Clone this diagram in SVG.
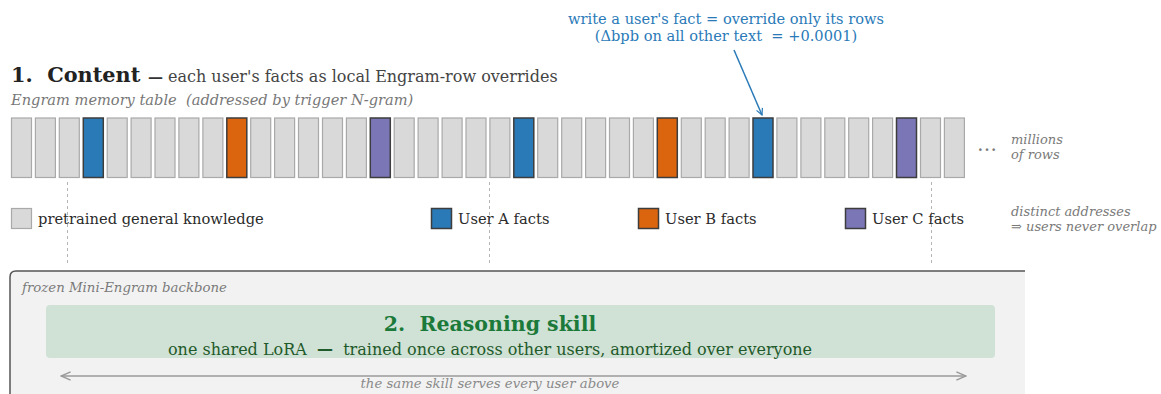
<svg xmlns="http://www.w3.org/2000/svg" width="1161" height="394" viewBox="0 0 1161 394">
  <defs>
    <style>
      text { font-family: "DejaVu Serif", serif; white-space: pre; }
      .cell { fill: #d9d9d9; stroke: #a9a9a9; stroke-width: 1.2; }
      .ua { fill: #2a7ab8; stroke: #3d3d3d; stroke-width: 1.5; }
      .ub { fill: #db650f; stroke: #3d3d3d; stroke-width: 1.5; }
      .uc { fill: #7b76b6; stroke: #3d3d3d; stroke-width: 1.5; }
      .note { font-style: italic; fill: #7a7a7a; font-size: 13px; }
      .leg { fill: #2b2b2b; font-size: 14.7px; }
      .guide { stroke: #b5b5b5; stroke-width: 1; stroke-dasharray: 3 3; }
    </style>
    <marker id="ahBlue" viewBox="0 0 10 10" refX="9" refY="5" markerWidth="8" markerHeight="8" orient="auto-start-reverse" markerUnits="userSpaceOnUse">
      <path d="M1,1 L9,5 L1,9" fill="none" stroke="#2a7ab8" stroke-width="1.5"/>
    </marker>
    <marker id="ahGray" viewBox="0 0 10 10" refX="9" refY="5" markerWidth="12" markerHeight="12" orient="auto-start-reverse" markerUnits="userSpaceOnUse">
      <path d="M1,1.5 L9,5 L1,8.5" fill="none" stroke="#9a9a9a" stroke-width="1.2"/>
    </marker>
  </defs>

  <!-- section 1 header -->
  <g id="header">
    <text x="11" y="82" font-size="20.8" font-weight="bold" fill="#222">1.  Content</text>
    <text x="148" y="82" font-size="15" font-weight="bold" fill="#333">—</text>
    <text x="168" y="82" font-size="16" fill="#444">each user's facts as local Engram-row overrides</text>
    <text x="11" y="105" font-size="14.6" font-style="italic" fill="#777">Engram memory table  (addressed by trigger N-gram)</text>
  </g>

  <!-- callout text -->
  <g id="callout" fill="#2a7ab8" font-size="14.6" text-anchor="middle">
    <text x="726" y="24">write a user's fact = override only its rows</text>
    <text x="726" y="41">(Δbpb on all other text  = +0.0001)</text>
  </g>

  <!-- guides from table to backbone -->
  <g id="guides">
    <line class="guide" x1="67.5" y1="182" x2="67.5" y2="266"/>
    <line class="guide" x1="489.5" y1="182" x2="489.5" y2="266"/>
    <line class="guide" x1="931.5" y1="182" x2="931.5" y2="266"/>
  </g>

  <!-- memory table rows -->
  <g id="table">
    <rect class="cell" x="11.5" y="118" width="20" height="59.5"/>
    <rect class="cell" x="35.4" y="118" width="20" height="59.5"/>
    <rect class="cell" x="59.3" y="118" width="20" height="59.5"/>
    <rect class="ua" x="83.3" y="118" width="20" height="59.5"/>
    <rect class="cell" x="107.2" y="118" width="20" height="59.5"/>
    <rect class="cell" x="131.1" y="118" width="20" height="59.5"/>
    <rect class="cell" x="155.0" y="118" width="20" height="59.5"/>
    <rect class="cell" x="178.9" y="118" width="20" height="59.5"/>
    <rect class="cell" x="202.9" y="118" width="20" height="59.5"/>
    <rect class="ub" x="226.8" y="118" width="20" height="59.5"/>
    <rect class="cell" x="250.7" y="118" width="20" height="59.5"/>
    <rect class="cell" x="274.6" y="118" width="20" height="59.5"/>
    <rect class="cell" x="298.5" y="118" width="20" height="59.5"/>
    <rect class="cell" x="322.5" y="118" width="20" height="59.5"/>
    <rect class="cell" x="346.4" y="118" width="20" height="59.5"/>
    <rect class="uc" x="370.3" y="118" width="20" height="59.5"/>
    <rect class="cell" x="394.2" y="118" width="20" height="59.5"/>
    <rect class="cell" x="418.1" y="118" width="20" height="59.5"/>
    <rect class="cell" x="442.1" y="118" width="20" height="59.5"/>
    <rect class="cell" x="466.0" y="118" width="20" height="59.5"/>
    <rect class="cell" x="489.9" y="118" width="20" height="59.5"/>
    <rect class="ua" x="513.8" y="118" width="20" height="59.5"/>
    <rect class="cell" x="537.7" y="118" width="20" height="59.5"/>
    <rect class="cell" x="561.7" y="118" width="20" height="59.5"/>
    <rect class="cell" x="585.6" y="118" width="20" height="59.5"/>
    <rect class="cell" x="609.5" y="118" width="20" height="59.5"/>
    <rect class="cell" x="633.4" y="118" width="20" height="59.5"/>
    <rect class="ub" x="657.3" y="118" width="20" height="59.5"/>
    <rect class="cell" x="681.3" y="118" width="20" height="59.5"/>
    <rect class="cell" x="705.2" y="118" width="20" height="59.5"/>
    <rect class="cell" x="729.1" y="118" width="20" height="59.5"/>
    <rect class="ua" x="753.0" y="118" width="20" height="59.5"/>
    <rect class="cell" x="776.9" y="118" width="20" height="59.5"/>
    <rect class="cell" x="800.9" y="118" width="20" height="59.5"/>
    <rect class="cell" x="824.8" y="118" width="20" height="59.5"/>
    <rect class="cell" x="848.7" y="118" width="20" height="59.5"/>
    <rect class="cell" x="872.6" y="118" width="20" height="59.5"/>
    <rect class="uc" x="896.5" y="118" width="20" height="59.5"/>
    <rect class="cell" x="920.5" y="118" width="20" height="59.5"/>
    <rect class="cell" x="944.4" y="118" width="20" height="59.5"/>
    <text x="977" y="151" font-size="20" fill="#777">…</text>
    <text class="note" x="1011" y="144">millions</text>
    <text class="note" x="1011" y="159">of rows</text>
  </g>

  <!-- legend -->
  <g id="legend">
    <rect class="cell" x="11.5" y="208.5" width="20" height="20"/>
    <text class="leg" x="38" y="224">pretrained general knowledge</text>
    <rect class="ua" x="431.5" y="208.5" width="20" height="20"/>
    <text class="leg" x="458" y="224">User A facts</text>
    <rect class="ub" x="638.5" y="208.5" width="20" height="20"/>
    <text class="leg" x="665" y="224">User B facts</text>
    <rect class="uc" x="845.5" y="208.5" width="20" height="20"/>
    <text class="leg" x="872" y="224">User C facts</text>
    <text class="note" x="1011" y="216">distinct addresses</text>
    <text class="note" x="1011" y="231">⇒ users never overlap</text>
  </g>

  <!-- section 2: frozen backbone with shared LoRA -->
  <g id="backbone">
    <path d="M10,400 L10,277 Q10,271 16,271 L1025,271 L1025,400 Z" fill="#f2f2f2"/>
    <path d="M10,400 L10,277 Q10,271 16,271 L1025,271" fill="none" stroke="#555" stroke-width="1.5"/>
    <text class="note" x="22" y="292" style="font-size:13.3px">frozen Mini-Engram backbone</text>
  </g>

  <g id="lora">
    <rect x="46" y="305" width="949" height="53" rx="4" fill="#d0e1d6"/>
    <text x="490" y="331" text-anchor="middle" font-size="20.5" font-weight="bold" fill="#1b7a3a">2.  Reasoning skill</text>
    <text x="490" y="355" text-anchor="middle" font-size="16" fill="#1f5a2a">one shared LoRA  <tspan font-weight="bold">—</tspan>  trained once across other users, amortized over everyone</text>
  </g>

  <!-- connectors -->
  <g id="connectors">
    <line x1="734" y1="50" x2="762" y2="115" stroke="#2a7ab8" stroke-width="1.5" marker-end="url(#ahBlue)"/>
    <line x1="61" y1="376" x2="966" y2="376" stroke="#9a9a9a" stroke-width="1.3" marker-start="url(#ahGray)" marker-end="url(#ahGray)"/>
    <text class="note" x="490" y="388" text-anchor="middle" style="font-size:13.25px; fill:#8a8a8a">the same skill serves every user above</text>
  </g>
</svg>
